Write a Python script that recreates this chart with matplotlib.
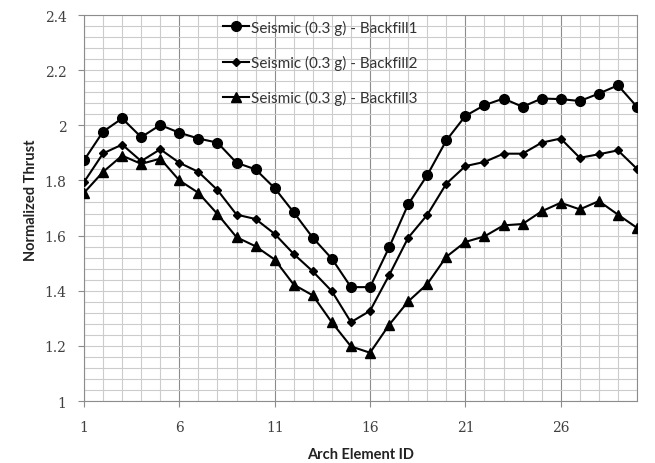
import matplotlib
matplotlib.use("Agg")
import matplotlib.pyplot as plt
import numpy as np
from matplotlib.ticker import FixedLocator

plt.rcParams['font.family'] = ['Lato', 'DejaVu Sans']

element_ids = list(range(1, 31))
backfill1 = [1.873, 1.977, 2.025, 1.957, 2.001, 1.973, 1.952, 1.937, 1.864, 1.840,
             1.772, 1.684, 1.592, 1.516, 1.413, 1.413, 1.557, 1.713, 1.819, 1.945,
             2.034, 2.073, 2.097, 2.067, 2.097, 2.095, 2.088, 2.115, 2.145, 2.067]
backfill2 = [1.794, 1.898, 1.930, 1.870, 1.913, 1.864, 1.831, 1.765, 1.676, 1.660,
             1.606, 1.533, 1.470, 1.398, 1.286, 1.327, 1.456, 1.592, 1.675, 1.788,
             1.852, 1.867, 1.897, 1.897, 1.937, 1.952, 1.882, 1.895, 1.909, 1.842]
backfill3 = [1.755, 1.831, 1.890, 1.860, 1.879, 1.800, 1.755, 1.678, 1.594, 1.561,
             1.513, 1.422, 1.383, 1.285, 1.198, 1.175, 1.276, 1.361, 1.424, 1.523,
             1.577, 1.597, 1.637, 1.642, 1.688, 1.719, 1.695, 1.725, 1.676, 1.628]
labels = ["Seismic (0.3 g) - Backfill1", "Seismic (0.3 g) - Backfill2",
          "Seismic (0.3 g) - Backfill3"]
x_ticks = [1, 6, 11, 16, 21, 26]
y_ticks = [1, 1.2, 1.4, 1.6, 1.8, 2, 2.2, 2.4]
y_ticklabels = ["1", "1.2", "1.4", "1.6", "1.8", "2", "2.2", "2.4"]

fig = plt.figure(figsize=(6.55, 4.64), dpi=100)
ax = fig.add_axes([84/655, 1-402/464, (637-84)/655, (402-16)/464])

# grid
for xv in range(1, 31):
    major = (xv - 1) % 5 == 0
    ax.axvline(xv, color='#8c8c8c' if major else '#cccccc', lw=0.8, zorder=0)
for yv in np.arange(1.0, 2.4001, 0.04):
    ax.axhline(yv, color='#cccccc', lw=0.8, zorder=0)

ax.plot(element_ids, backfill1, color='black', lw=1.5, marker='o', ms=7, label=labels[0], zorder=3)
ax.plot(element_ids, backfill2, color='black', lw=1.5, marker='D', ms=4, label=labels[1], zorder=3)
ax.plot(element_ids, backfill3, color='black', lw=1.5, marker='^', ms=6.5, label=labels[2], zorder=3)

ax.set_xlim(1, 30)
ax.set_ylim(1, 2.4)
ax.xaxis.set_major_locator(FixedLocator(x_ticks))
ax.yaxis.set_major_locator(FixedLocator(y_ticks))
ax.set_yticklabels(y_ticklabels)
ax.tick_params(axis='both', colors='#8c8c8c', labelcolor='#404040', labelsize=10.5,
               length=4.5, width=0.8)
for lab in ax.get_xticklabels() + ax.get_yticklabels():
    lab.set_family(['DejaVu Serif'])
    lab.set_fontsize(10)
ax.tick_params(axis='x', pad=9.5)
ax.tick_params(axis='y', pad=8)
for s in ax.spines.values():
    s.set_color('#8c8c8c')
    s.set_linewidth(0.8)

ax.set_xlabel("Arch Element ID", fontsize=10.5, fontweight='bold', color='#222222', labelpad=9)
ax.set_ylabel("Normalized Thrust", fontsize=10.5, fontweight='bold', color='#222222', labelpad=9)
ax.yaxis.set_label_coords(-0.084, 0.523)

leg = ax.legend(loc='upper left', bbox_to_anchor=(0.243, 1.0), frameon=False, fontsize=11,
                labelspacing=1.33, handlelength=1.7, handletextpad=0.15, borderaxespad=0.0,
                borderpad=0.3)
for t in leg.get_texts():
    t.set_color('#333333')

fig.savefig("out.png", dpi=100)
